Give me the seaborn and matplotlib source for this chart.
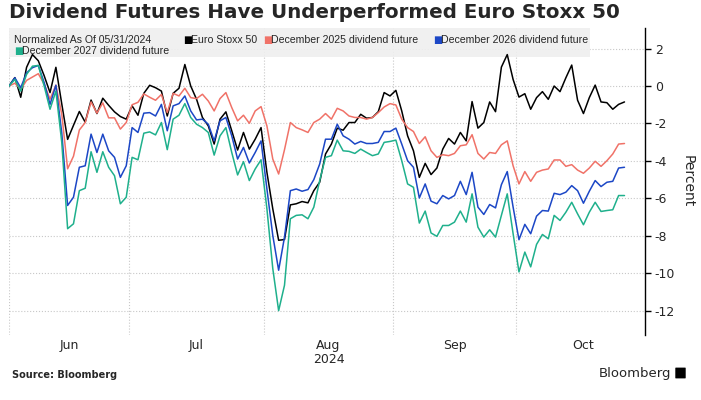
import numpy as np
import pandas as pd
import matplotlib
matplotlib.use("Agg")
import matplotlib.pyplot as plt
import seaborn as sns
from matplotlib.patches import Rectangle, FancyBboxPatch

# trading days, normalized to 0 on 05/31/2024 (values in percent)
dates = pd.bdate_range("2024-05-31", "2024-10-25")

euro_stoxx = [
    0, 0.45, -0.6, 1.0, 1.68, 1.35, 0.55, -0.35, 1.0, -0.95, -2.85, -2.1, -1.36, -1.93,
    -0.75, -1.47, -0.65, -1.03, -1.38, -1.63, -1.77, -1.06, -1.56, -0.39, 0.04, -0.09, -0.27,
    -1.6, -0.39, -0.12, 1.15, 0.0, -0.71, -1.68, -2.13, -3.1, -1.77, -1.38, -2.39, -3.42,
    -2.48, -3.37, -2.84, -2.22, -4.61, -6.56, -8.24, -8.2, -6.35, -6.29, -6.17, -6.24, -5.59,
    -5.14, -3.63, -3.1, -2.25, -2.36, -1.95, -1.95, -1.51, -1.72, -1.68, -1.37, -0.35, -0.53,
    -0.23, -1.33, -2.66, -3.46, -4.88, -4.13, -4.73, -4.38, -3.37, -2.8, -3.1, -2.48, -2.93, -0.83,
    -2.25, -1.95, -0.85, -1.37, 1.01, 1.68, 0.35, -0.59, -0.41, -1.24, -0.62, -0.3, -0.71,
    0.0, -0.3, 0.44, 1.12, -0.76, -1.47, -0.62, 0.05, -0.85, -0.89, -1.24, -0.98, -0.85,
]
dec_2025 = [
    0, 0.15, -0.18, 0.3, 0.48, 0.66, 0.1, -0.7, 0.05, -1.5, -4.42, -3.75, -2.35, -1.95,
    -0.85, -1.45, -0.9, -1.7, -1.7, -2.3, -1.95, -1.0, -0.87, -0.42, -0.6, -0.76, -0.45,
    -1.42, -0.39, -0.53, -0.12, -0.62, -0.67, -0.44, -0.8, -1.33, -0.67, -0.35, -1.15, -1.86,
    -1.56, -1.99, -1.33, -1.1, -2.13, -3.9, -4.7, -3.4, -1.95, -2.22, -2.34, -2.48, -1.95,
    -1.77, -1.47, -1.77, -1.19, -1.33, -1.6, -1.68, -1.68, -1.77, -1.68, -1.42, -1.12, -0.94,
    -1.01, -1.77, -2.22, -2.43, -3.07, -2.71, -3.46, -3.81, -3.67, -3.72, -3.6, -3.19, -3.14, -2.6,
    -3.6, -3.9, -3.55, -3.6, -3.14, -2.93, -4.26, -5.23, -4.57, -5.09, -4.61, -4.49, -4.43,
    -3.95, -3.95, -4.29, -4.2, -4.49, -4.66, -4.38, -4.02, -4.29, -3.99, -3.63, -3.1, -3.07,
]
dec_2026 = [
    0, 0.44, -0.09, 0.71, 0.98, 1.1, 0.18, -0.98, 0.04, -2.5, -6.38, -5.94, -4.34, -4.26,
    -2.57, -3.55, -2.57, -3.46, -3.81, -4.88, -4.26, -2.22, -2.48, -1.45, -1.42, -1.6, -0.98,
    -2.39, -1.06, -0.94, -0.53, -1.33, -1.81, -1.77, -2.04, -2.93, -1.86, -1.68, -2.66, -3.9,
    -3.28, -4.11, -3.55, -2.93, -5.5, -7.98, -9.84, -8.07, -5.59, -5.5, -5.62, -5.53, -5.0,
    -4.17, -2.84, -2.84, -2.04, -2.66, -2.84, -3.1, -2.96, -3.07, -3.07, -3.01, -2.43, -2.43,
    -2.25, -3.1, -3.99, -4.34, -5.98, -5.23, -6.15, -6.29, -5.85, -6.03, -5.85, -5.09, -5.8, -4.61,
    -6.47, -6.86, -6.33, -6.51, -5.27, -4.57, -6.47, -8.21, -7.39, -7.89, -6.95, -6.65, -6.68,
    -5.73, -5.8, -5.67, -5.32, -5.59, -6.26, -5.62, -5.05, -5.37, -5.14, -5.09, -4.38, -4.34,
]
dec_2027 = [
    0, 0.35, -0.27, 0.62, 1.06, 1.1, 0.0, -1.24, -0.27, -3.0, -7.62, -7.36, -5.59, -5.46,
    -3.51, -4.61, -3.51, -4.34, -4.79, -6.29, -5.94, -3.81, -3.94, -2.52, -2.45, -2.61, -1.95,
    -3.4, -1.77, -1.56, -0.94, -1.68, -2.04, -2.22, -2.48, -3.69, -2.66, -2.22, -3.55, -4.75,
    -4.04, -5.05, -4.43, -3.94, -6.56, -9.75, -12.0, -10.64, -7.09, -6.91, -6.88, -7.09, -6.47,
    -5.05, -3.81, -3.72, -2.89, -3.46, -3.49, -3.6, -3.37, -3.55, -3.72, -3.63, -3.01, -2.96,
    -2.89, -3.99, -5.23, -5.41, -7.32, -6.68, -7.85, -8.03, -7.45, -7.45, -7.27, -6.68, -7.27, -5.76,
    -7.54, -8.07, -7.68, -8.07, -6.91, -5.76, -7.89, -9.93, -8.87, -9.66, -8.46, -7.93, -8.16,
    -6.91, -7.18, -6.74, -6.21, -6.83, -7.41, -6.74, -6.21, -6.7, -6.65, -6.61, -5.85, -5.85,
]

series_names = ["Euro Stoxx 50", "December 2025 dividend future",
                "December 2026 dividend future", "December 2027 dividend future"]
series_colors = ["#000000", "#f07268", "#1c47c6", "#1fb08c"]
month_labels = ["Jun", "Jul", "Aug\n2024", "Sep", "Oct"]
y_ticks = [2, 0, -2, -4, -6, -8, -10, -12]

df = pd.DataFrame({
    "date": dates,
    "pos": np.arange(len(dates)),
    series_names[0]: euro_stoxx,
    series_names[1]: dec_2025,
    series_names[2]: dec_2026,
    series_names[3]: dec_2027,
})
long_df = df.melt(id_vars=["date", "pos"], var_name="series", value_name="pct")

sns.set_style("white")
plt.rcParams["font.family"] = ["DejaVu Sans"]

fig = plt.figure(figsize=(7.01, 4.0), dpi=100)
ax = fig.add_axes([9 / 701, 65 / 400, 636 / 701, 307 / 400])

sns.lineplot(data=long_df, x="pos", y="pct", hue="series", hue_order=series_names,
             palette=series_colors, linewidth=1.1, legend=False, ax=ax, zorder=3)

# month boundaries / mid points on a trading-day axis
full_days = pd.bdate_range("2024-05-31", "2024-10-31")
months = full_days.to_period("M")
starts = [np.where(months == m)[0][0] - 0.5 for m in months.unique()[1:]]
starts[0] = 0  # chart starts at the normalization date
ends = starts[1:] + [len(full_days) - 0.5]
mids = [(a + b) / 2 for a, b in zip(starts, ends)]

ax.set_xlim(0, 108.5)
ax.set_ylim(-13.3, 3.1)
ax.set_xticks(mids)
ax.set_xticklabels(month_labels, fontsize=9, linespacing=1.05)
ax.set_xticks(starts, minor=True)
ax.tick_params(axis="x", which="both", length=0, pad=3)

ax.yaxis.tick_right()
ax.yaxis.set_label_position("right")
ax.set_yticks(y_ticks)
ax.set_yticklabels([str(t) for t in y_ticks], fontsize=9)
ax.tick_params(axis="y", length=4, width=1, direction="out", color="black", pad=3)
ax.set_ylabel("Percent", fontsize=10, rotation=-90, labelpad=14)
ax.set_xlabel("")

ax.grid(True, axis="y", which="major", linestyle=":", color="#c8c8c8", linewidth=0.8)
ax.grid(True, axis="x", which="minor", linestyle=":", color="#c8c8c8", linewidth=0.8)
ax.grid(False, axis="x", which="major")
for side in ["top", "left", "bottom"]:
    ax.spines[side].set_visible(False)
ax.spines["right"].set_color("black")
ax.spines["right"].set_linewidth(1.0)

# legend band
ax.add_patch(Rectangle((0, 1 - 29 / 307), 581 / 636, 29 / 307, transform=ax.transAxes,
                       facecolor="#efefef", edgecolor="none", zorder=1, alpha=0.9))
leg_font = ["Liberation Sans", "DejaVu Sans"]
fs_leg = 7.6
fig.text(14 / 701, 1 - 40 / 400, "Normalized As Of 05/31/2024", fontsize=fs_leg,
         va="center", family=leg_font)
legend_slots = [(183, 40), (263, 40), (433, 40), (14, 51)]
for (lx, ly), name, col in zip(legend_slots, series_names, series_colors):
    fig.text(lx / 701, 1 - ly / 400, "\u25a0", color=col, fontsize=7, va="center")
    fig.text((lx + 8) / 701, 1 - ly / 400, name, fontsize=fs_leg, va="center", family=leg_font)

fig.text(9 / 701, 1 - 13 / 400, "Dividend Futures Have Underperformed Euro Stoxx 50",
         fontsize=14.3, fontweight="bold", va="center")
fig.text(12 / 701, 1 - 375 / 400, "Source: Bloomberg", fontsize=7, fontweight="bold", va="center")
fig.text(671 / 701, 1 - 373 / 400, "Bloomberg", fontsize=9.5, ha="right", va="center")
fig.patches.append(FancyBboxPatch((676 / 701, 1 - 378 / 400), 9 / 701, 10 / 400,
                                  boxstyle="round,pad=0.001", transform=fig.transFigure,
                                  facecolor="black", edgecolor="none"))

fig.savefig("out.png", dpi=100)
